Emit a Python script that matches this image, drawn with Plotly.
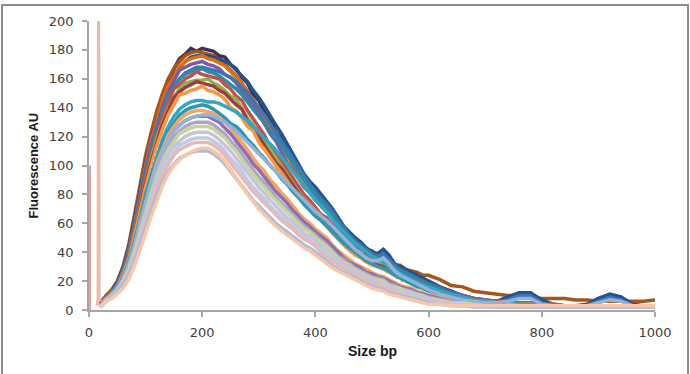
import plotly.graph_objects as go

# ---- data (fragment size in bp, fluorescence in AU) ----
X_BP = list(range(20, 600, 10)) + list(range(600, 1001, 20))

S_DARK_PURPLE = [4, 9, 13, 18, 27, 41, 60, 82, 102, 120,
                 135, 148, 158, 167, 174, 177, 181, 179, 181, 180,
                 179, 176, 175, 170, 167, 161, 157, 149, 145, 137,
                 132, 123, 119, 110, 105, 96, 91, 84, 81, 74,
                 72, 65, 61, 54, 51, 45, 44, 39, 38, 35,
                 34, 32, 29, 27, 25, 23, 21, 19,
                 17, 14, 12, 10, 8, 7, 6, 5, 5, 4,
                 4, 3, 3, 3, 3, 3, 3, 2, 2, 2,
                 2]
S_BROWN = [5, 10, 14, 20, 30, 45, 65, 87, 107, 123,
           138, 150, 160, 167, 172, 176, 178, 179, 178, 177,
           176, 173, 170, 166, 162, 157, 151, 145, 139, 133,
           127, 121, 115, 109, 103, 97, 92, 87, 82, 77,
           72, 67, 62, 57, 53, 49, 45, 42, 41, 38,
           35, 33, 31, 31, 28, 27, 26, 24,
           24, 21, 17, 16, 13, 12, 11, 10, 10, 9,
           8, 8, 8, 7, 7, 6, 6, 6, 6, 6,
           7]
S_DARK_BLUE = [4, 9, 13, 19, 29, 43, 62, 83, 102, 118,
               132, 144, 154, 162, 168, 172, 175, 176, 176, 176,
               175, 174, 172, 170, 166, 162, 158, 152, 147, 141,
               134, 128, 122, 115, 108, 101, 94, 89, 85, 80,
               75, 70, 64, 58, 54, 50, 47, 43, 40, 39,
               42, 38, 32, 30, 28, 26, 24, 22,
               20, 16, 13, 10, 8, 6, 6, 9, 12, 12,
               7, 4, 3, 3, 4, 8, 11, 9, 4, 3,
               2]
S_ORANGE = [4, 9, 13, 17, 27, 41, 59, 81, 100, 117,
            131, 145, 155, 161, 168, 172, 174, 175, 176, 174,
            173, 171, 169, 165, 161, 157, 150, 146, 139, 133,
            126, 119, 114, 107, 100, 94, 88, 83, 78, 74,
            70, 65, 60, 54, 50, 46, 44, 41, 38, 37,
            36, 33, 30, 27, 25, 24, 21, 20,
            18, 15, 12, 10, 8, 7, 6, 6, 5, 5,
            4, 4, 3, 3, 3, 3, 3, 3, 2, 2,
            2]
S_PURPLE = [4, 9, 12, 17, 26, 40, 58, 78, 97, 114,
            128, 141, 151, 159, 166, 168, 170, 171, 172, 170,
            169, 167, 163, 161, 157, 152, 146, 141, 136, 129,
            122, 117, 110, 102, 97, 91, 85, 81, 76, 72,
            68, 64, 57, 53, 48, 44, 42, 40, 37, 36,
            35, 32, 29, 26, 24, 23, 21, 19,
            17, 14, 12, 10, 8, 7, 6, 5, 5, 5,
            4, 4, 3, 3, 3, 3, 3, 3, 2, 2,
            2]
S_BLUE = [3, 8, 12, 18, 27, 40, 57, 77, 96, 112,
          126, 138, 148, 155, 160, 164, 166, 168, 168, 167,
          166, 165, 163, 161, 158, 154, 150, 145, 140, 135,
          129, 123, 117, 111, 104, 98, 92, 87, 82, 77,
          73, 68, 62, 57, 52, 48, 45, 42, 39, 37,
          39, 35, 31, 28, 26, 24, 22, 20,
          18, 15, 12, 9, 7, 6, 5, 7, 10, 10,
          5, 3, 3, 3, 3, 6, 9, 7, 3, 2,
          2]
S_TEAL = [4, 8, 12, 17, 26, 38, 56, 76, 94, 110,
          124, 136, 147, 154, 160, 163, 165, 166, 167, 165,
          164, 162, 159, 156, 153, 149, 144, 139, 134, 129,
          124, 119, 114, 108, 102, 96, 90, 85, 80, 75,
          71, 66, 60, 56, 51, 47, 44, 41, 38, 36,
          36, 33, 30, 27, 25, 23, 21, 19,
          17, 14, 11, 9, 7, 6, 5, 5, 4, 4,
          3, 3, 3, 2, 2, 2, 2, 2, 2, 2,
          2]
S_RED = [3, 8, 12, 16, 25, 37, 55, 74, 92, 108,
         122, 134, 144, 153, 156, 160, 162, 165, 163, 162,
         161, 160, 156, 153, 148, 145, 138, 132, 127, 121,
         113, 109, 103, 97, 91, 85, 80, 76, 71, 66,
         64, 59, 53, 49, 45, 41, 39, 37, 35, 33,
         32, 29, 27, 24, 22, 21, 19, 17,
         15, 13, 10, 9, 7, 6, 6, 5, 4, 4,
         3, 3, 3, 3, 3, 3, 2, 2, 2, 2,
         2]
S_GREEN = [3, 8, 12, 16, 25, 36, 53, 72, 89, 105,
           119, 130, 140, 147, 153, 157, 158, 159, 159, 160,
           157, 155, 152, 148, 146, 139, 133, 128, 123, 117,
           111, 105, 100, 94, 87, 82, 77, 73, 69, 65,
           60, 57, 51, 47, 43, 40, 38, 35, 33, 32,
           31, 28, 25, 23, 21, 20, 18, 16,
           15, 12, 10, 8, 7, 6, 5, 5, 4, 4,
           3, 3, 3, 3, 3, 2, 2, 2, 2, 2,
           2]
S_DARK_RED = [3, 8, 12, 16, 24, 36, 52, 71, 88, 103,
              117, 129, 138, 147, 151, 154, 156, 158, 157, 156,
              155, 152, 150, 146, 142, 139, 131, 126, 120, 115,
              109, 102, 98, 92, 87, 81, 76, 72, 68, 64,
              60, 55, 50, 46, 42, 39, 37, 35, 33, 31,
              30, 27, 25, 23, 21, 19, 18, 16,
              14, 12, 10, 8, 7, 6, 5, 5, 4, 4,
              3, 3, 3, 3, 2, 2, 2, 2, 2, 2,
              2]
S_ORANGE2 = [3, 8, 11, 16, 24, 35, 51, 69, 85, 100,
             114, 125, 135, 142, 149, 150, 152, 153, 155, 152,
             151, 149, 146, 140, 138, 133, 127, 124, 116, 111,
             105, 100, 95, 89, 84, 78, 75, 70, 65, 62,
             58, 53, 49, 45, 41, 38, 36, 33, 31, 30,
             28, 26, 24, 21, 20, 18, 17, 15,
             13, 11, 9, 8, 6, 6, 5, 4, 4, 4,
             3, 3, 2, 2, 2, 2, 2, 2, 2, 2,
             2]
S_WHITE = [3, 8, 11, 15, 23, 33, 48, 65, 81, 96,
           109, 120, 129, 136, 141, 144, 146, 147, 147, 146,
           145, 142, 139, 135, 131, 126, 120, 115, 110, 105,
           99, 94, 89, 84, 79, 74, 69, 66, 62, 58,
           55, 50, 46, 42, 39, 35, 33, 31, 29, 27,
           26, 24, 22, 20, 18, 17, 15, 14,
           12, 10, 8, 7, 6, 5, 5, 4, 4, 4,
           3, 3, 2, 2, 2, 2, 2, 2, 2, 2,
           2]
S_AQUA = [3, 7, 11, 15, 22, 33, 47, 64, 80, 94,
          107, 118, 127, 134, 139, 142, 144, 145, 145, 144,
          144, 143, 141, 139, 137, 134, 131, 127, 123, 119,
          115, 111, 106, 101, 96, 91, 86, 81, 76, 72,
          68, 63, 58, 54, 50, 46, 43, 40, 37, 35,
          33, 31, 28, 25, 23, 21, 19, 17,
          16, 13, 11, 9, 7, 6, 5, 5, 4, 4,
          3, 3, 3, 2, 2, 2, 2, 2, 2, 2,
          2]
S_TEAL2 = [3, 7, 11, 15, 22, 32, 46, 62, 78, 92,
           104, 115, 124, 130, 135, 138, 140, 141, 142, 141,
           139, 136, 133, 129, 127, 123, 118, 114, 109, 105,
           100, 96, 91, 87, 82, 78, 73, 69, 65, 62,
           58, 54, 50, 46, 43, 40, 37, 34, 32, 30,
           29, 27, 24, 22, 20, 18, 16, 15,
           13, 11, 9, 7, 6, 5, 4, 4, 3, 3,
           3, 2, 2, 2, 2, 2, 2, 2, 2, 2,
           2]
S_ORANGE3 = [3, 7, 11, 14, 21, 31, 44, 60, 75, 89,
             102, 112, 121, 127, 132, 135, 137, 138, 138, 137,
             136, 133, 130, 126, 121, 116, 111, 105, 100, 96,
             90, 86, 81, 77, 72, 67, 63, 60, 56, 53,
             50, 45, 41, 38, 35, 32, 30, 28, 26, 24,
             23, 21, 19, 17, 16, 15, 13, 12,
             10, 9, 7, 6, 5, 4, 4, 4, 3, 3,
             3, 2, 2, 2, 2, 2, 2, 2, 2, 2,
             2]
S_PURPLE2 = [3, 7, 10, 14, 21, 30, 43, 58, 73, 87,
             99, 109, 118, 124, 128, 131, 133, 134, 134, 134,
             132, 130, 126, 122, 117, 112, 107, 101, 97, 92,
             87, 82, 78, 74, 69, 65, 61, 58, 54, 51,
             48, 44, 40, 36, 33, 31, 29, 26, 25, 23,
             22, 20, 18, 16, 15, 14, 12, 11,
             10, 8, 6, 6, 4, 4, 4, 3, 3, 3,
             2, 2, 2, 2, 2, 2, 2, 2, 2, 2,
             2]
S_LILAC = [3, 7, 10, 14, 20, 29, 41, 56, 70, 84,
           96, 106, 114, 120, 124, 127, 129, 130, 130, 130,
           128, 125, 122, 117, 113, 108, 102, 97, 92, 88,
           83, 78, 74, 70, 66, 62, 58, 55, 52, 48,
           45, 41, 37, 35, 32, 29, 27, 25, 23, 22,
           21, 18, 17, 15, 14, 13, 11, 10,
           9, 7, 6, 5, 4, 4, 3, 3, 3, 3,
           2, 2, 2, 2, 2, 2, 2, 2, 2, 2,
           2]
S_PALE_BLUE = [3, 7, 11, 15, 21, 31, 44, 59, 74, 88,
               100, 110, 118, 124, 128, 131, 133, 134, 135, 135,
               134, 132, 130, 127, 124, 120, 116, 112, 108, 104,
               100, 96, 92, 88, 84, 80, 76, 72, 68, 65,
               62, 58, 54, 50, 46, 42, 39, 36, 34, 34,
               36, 32, 27, 24, 22, 20, 18, 16,
               14, 11, 9, 7, 6, 5, 5, 6, 8, 8,
               4, 3, 2, 2, 3, 5, 7, 6, 3, 2,
               2]
S_LIGHT_GREEN = [2, 7, 10, 13, 20, 28, 40, 54, 68, 81,
                 93, 103, 111, 117, 122, 124, 126, 127, 127, 127,
                 125, 122, 119, 114, 110, 104, 99, 94, 89, 85,
                 80, 76, 72, 68, 64, 60, 56, 54, 50, 47,
                 44, 40, 36, 33, 31, 28, 26, 24, 22, 21,
                 20, 17, 16, 15, 13, 12, 11, 10,
                 8, 7, 5, 5, 4, 3, 3, 3, 3, 2,
                 2, 2, 2, 2, 2, 2, 2, 2, 2, 2,
                 2]
S_LIGHT_LILAC = [2, 7, 10, 13, 19, 27, 38, 52, 65, 78,
                 90, 100, 108, 113, 117, 120, 122, 123, 123, 123,
                 121, 118, 114, 110, 105, 100, 95, 90, 85, 81,
                 76, 72, 68, 64, 61, 57, 53, 51, 48, 44,
                 41, 38, 34, 32, 29, 27, 25, 22, 21, 19,
                 18, 16, 15, 13, 12, 11, 10, 9,
                 8, 6, 5, 4, 3, 3, 3, 2, 2, 2,
                 2, 2, 2, 2, 2, 2, 2, 2, 2, 2,
                 2]
S_LIGHT_BLUE = [2, 6, 9, 13, 18, 26, 37, 50, 63, 75,
                87, 96, 104, 109, 114, 116, 118, 119, 119, 119,
                117, 114, 110, 105, 101, 96, 90, 85, 81, 77,
                72, 68, 65, 61, 58, 54, 51, 48, 45, 42,
                39, 36, 32, 30, 27, 25, 23, 21, 19, 18,
                17, 15, 14, 12, 11, 10, 9, 8,
                7, 5, 4, 4, 3, 3, 2, 2, 2, 2,
                2, 2, 2, 2, 2, 2, 2, 2, 2, 2,
                2]
S_PINK = [2, 6, 9, 12, 18, 26, 35, 48, 61, 73,
          85, 94, 101, 107, 111, 113, 115, 116, 116, 116,
          114, 111, 107, 102, 97, 92, 87, 82, 78, 74,
          70, 66, 62, 59, 56, 52, 49, 47, 44, 40,
          37, 34, 31, 29, 26, 24, 22, 20, 18, 17,
          16, 14, 13, 11, 10, 9, 8, 7,
          6, 5, 4, 3, 3, 3, 2, 2, 2, 2,
          2, 2, 2, 2, 2, 2, 2, 2, 2, 2,
          2]
S_PEACH = [2, 6, 8, 11, 15, 21, 30, 41, 53, 65,
           76, 86, 94, 100, 104, 107, 109, 111, 112, 112,
           110, 107, 103, 97, 91, 85, 80, 75, 70, 66,
           62, 58, 55, 52, 49, 46, 43, 41, 38, 35,
           32, 29, 27, 25, 23, 21, 19, 17, 15, 14,
           13, 11, 10, 9, 8, 7, 6, 5,
           4, 4, 3, 3, 3, 3, 3, 3, 3, 3,
           3, 3, 3, 3, 3, 3, 3, 3, 3, 3,
           3]
S_BOTTOM = [2, 6, 9, 12, 17, 24, 33, 45, 57, 69,
            80, 89, 96, 101, 105, 107, 109, 110, 110, 110,
            108, 105, 101, 96, 91, 86, 81, 76, 72, 68,
            64, 60, 57, 54, 51, 48, 45, 43, 40, 37,
            34, 31, 28, 26, 24, 22, 20, 18, 16, 15,
            14, 12, 11, 10, 9, 8, 7, 6,
            5, 4, 3, 3, 2, 2, 2, 2, 2, 2,
            2, 2, 2, 2, 2, 2, 2, 2, 2, 2,
            2]

# lower-marker peak and first-point spike
MARKER_X = [14, 16, 17, 18, 20]
MARKER_Y = [3, 8, 260, 8, 6]
START_X = [2, 2]
START_Y = [0, 100]

X_TICKS = [0, 200, 400, 600, 800, 1000]
Y_TICKS = [0, 20, 40, 60, 80, 100, 120, 140, 160, 180, 200]

# ---- drawing ----
DRAW = [
    (S_DARK_PURPLE, "#403152", 3.5, "solid"),
    (S_BROWN, "#A5551E", 3.5, "solid"),
    (S_DARK_BLUE, "#24528A", 3.5, "solid"),
    (S_ORANGE, "#E46C0A", 3.5, "solid"),
    (S_PURPLE, "#7B5BA5", 3.5, "solid"),
    (S_BLUE, "#3E73B6", 3.5, "solid"),
    (S_TEAL, "#2F8AA3", 3.5, "solid"),
    (S_RED, "#C0504D", 3.5, "solid"),
    (S_GREEN, "#8DB254", 3.5, "solid"),
    (S_DARK_RED, "#9E3D3A", 3.5, "solid"),
    (S_ORANGE2, "#F79646", 3.5, "solid"),
    (S_WHITE, "#FFFFFF", 2, "dot"),
    (S_AQUA, "#34A6C4", 3.5, "solid"),
    (S_TEAL2, "#2C98B5", 3.5, "solid"),
    (S_ORANGE3, "#F9A35E", 3.5, "solid"),
    (S_PURPLE2, "#8A72B0", 3.5, "solid"),
    (S_LILAC, "#B3A2C7", 3.5, "solid"),
    (S_PALE_BLUE, "#95B3D7", 3.5, "solid"),
    (S_LIGHT_GREEN, "#C3D69B", 3.5, "solid"),
    (S_LIGHT_LILAC, "#CCC1DA", 3.5, "solid"),
    (S_LIGHT_BLUE, "#B9CDE5", 3.5, "solid"),
    (S_PINK, "#E6B9B8", 3.5, "solid"),
    (S_BOTTOM, "#A9BCD9", 3.5, "solid"),
    (S_PEACH, "#F8C6A8", 3.5, "solid"),
]

fig = go.Figure()
for vals, color, w, dash in DRAW:
    if len(vals) != len(X_BP):
        raise ValueError(f"series length {len(vals)} != {len(X_BP)} for {color}")
    fig.add_trace(go.Scatter(x=X_BP, y=vals, mode="lines",
                             line=dict(color=color, width=w, dash=dash),
                             hoverinfo="skip"))

fig.add_trace(go.Scatter(x=START_X, y=START_Y, mode="lines",
                         line=dict(color="#D49E98", width=2), hoverinfo="skip"))
fig.add_trace(go.Scatter(x=MARKER_X, y=MARKER_Y, mode="lines",
                         line=dict(color="#EDBBAA", width=3), hoverinfo="skip"))

axis_common = dict(showgrid=False, zeroline=False, showline=True,
                   linecolor="#A6A6A6", linewidth=1.5, ticks="outside",
                   ticklen=5, tickcolor="#A6A6A6", tickwidth=1.5,
                   tickfont=dict(family="DejaVu Sans", size=13, color="#404040"),
                   fixedrange=True)

fig.update_layout(
    width=690, height=374,
    margin=dict(l=89, r=35, t=21, b=64),
    paper_bgcolor="white", plot_bgcolor="white",
    showlegend=False,
    xaxis=dict(range=[0, 1000], tickvals=X_TICKS, ticklabelstandoff=5, **axis_common),
    yaxis=dict(range=[0, 200], tickvals=Y_TICKS, ticklabelstandoff=6, **axis_common),
    annotations=[
        dict(text="<b>Size bp</b>", xref="paper", yref="paper", x=0.5, y=-0.142,
             xanchor="center", yanchor="middle", showarrow=False,
             font=dict(family="Liberation Sans", size=14, color="#1a1a1a")),
        dict(text="<b>Fluorescence AU</b>", xref="paper", yref="paper", x=-0.0972, y=0.5,
             xanchor="center", yanchor="middle", textangle=-90, showarrow=False,
             font=dict(family="Liberation Sans", size=13, color="#1a1a1a")),
    ],
    shapes=[dict(type="rect", xref="paper", yref="paper",
                 x0=-0.1537, x1=1.0583, y0=-0.2284, y1=1.0554,
                 line=dict(color="#8C8C8C", width=2), layer="below")],
)

fig.write_html("out.html", config={"displayModeBar": False},
               post_script="document.body.style.margin='0';document.body.style.overflow='hidden';")
